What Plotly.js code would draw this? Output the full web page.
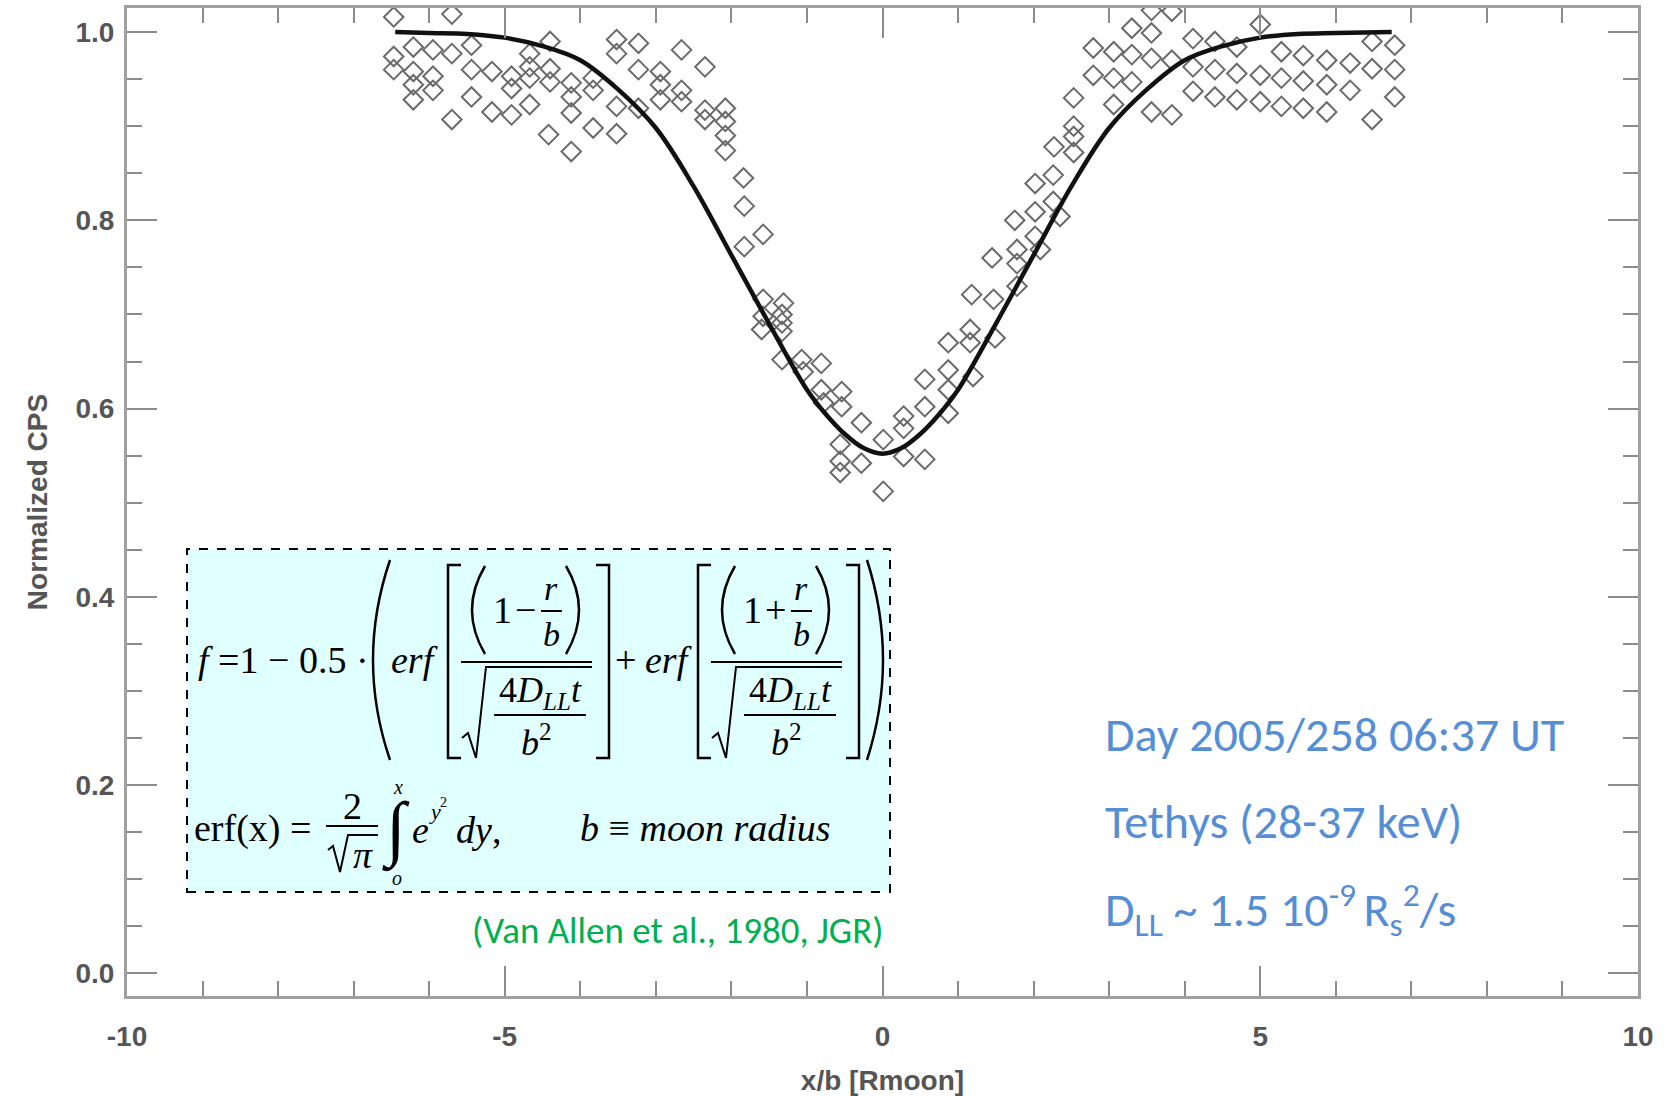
<!DOCTYPE html>
<html>
<head>
<meta charset="utf-8">
<script src="https://cdn.plot.ly/plotly-3.0.1.min.js"></script>
<style>
  html, body { margin: 0; padding: 0; background: #fff; }
  #chart { width: 1669px; height: 1096px; }
</style>
</head>
<body>
<div id="chart"></div>
<script>
// Normalized count rate across the Tethys microsignature (Cassini LEMMS, 28-37 keV)

// Measured points: position x/b (moon radii) and normalized CPS
const obsX = [
  -6.47, -5.70, -6.21, -5.95, -6.47, -5.70, -5.44, -6.47, -6.21, -5.95,
  -6.21, -5.95, -6.21, -5.44, -5.17, -5.44, -5.70, -5.17, -4.91, -4.91,
  -4.91, -4.67, -4.67, -4.67, -4.67, -4.40, -4.40, -4.40, -4.42, -4.12,
  -4.12, -4.12, -4.12, -3.83, -3.83, -3.83, -3.52, -3.52, -3.52, -3.52,
  -3.23, -3.23, -3.23, -2.94, -2.94, -2.94, -2.66, -2.66, -2.66, -2.35,
  -2.35, -2.35, -2.08, -2.08, -2.08, -2.08, -1.84,
  -1.83, -1.83, -1.58, -1.58, -1.31, -1.58, -1.33, -1.33, -1.33, -1.60,
  -1.33, -1.07, -0.81, -1.05, -0.81, -0.54, -0.78, -0.54, -0.28, -0.56,
  -0.56, -0.56, -0.28, 0.01, 0.01, 0.28, 0.28, 0.28, 0.56, 0.56,
  0.56, 0.87, 0.87, 0.87, 0.87, 1.16, 1.16, 1.18, 1.20, 1.45,
  1.47, 1.49,
  1.75, 1.78, 1.78, 1.78, 2.02, 2.02, 2.02, 2.09, 2.27, 2.26,
  2.26, 2.35, 2.53, 2.53, 2.53, 2.53, 2.79, 2.79, 3.06, 3.06,
  3.06, 3.30, 3.30, 3.30, 3.56, 3.56, 3.56, 3.56, 3.83, 3.83,
  3.83, 4.11, 4.11, 4.11, 4.40, 4.40, 4.40, 4.69, 4.69, 4.69,
  5.00, 5.00, 5.00, 5.28, 5.28, 5.28, 5.57, 5.57, 5.57, 5.88,
  5.88, 5.88, 6.19, 6.19, 6.48, 6.48, 6.48, 6.78, 6.78, 6.78
];
const obsCPS = [
  1.016, 1.019, 0.984, 0.981, 0.974, 0.977, 0.986, 0.960, 0.958, 0.953,
  0.944, 0.938, 0.928, 0.960, 0.958, 0.931, 0.907, 0.915, 0.953, 0.940,
  0.912, 0.977, 0.963, 0.951, 0.923, 0.990, 0.961, 0.947, 0.891, 0.946,
  0.931, 0.914, 0.873, 0.951, 0.938, 0.898, 0.992, 0.977, 0.921, 0.892,
  0.988, 0.960, 0.919, 0.958, 0.944, 0.928, 0.981, 0.938, 0.926, 0.963,
  0.917, 0.907, 0.919, 0.905, 0.890, 0.874, 0.845,
  0.815, 0.772, 0.785, 0.716, 0.712, 0.698, 0.700, 0.691, 0.682, 0.684,
  0.652, 0.652, 0.648, 0.639, 0.620, 0.618, 0.606, 0.602, 0.585, 0.562,
  0.544, 0.532, 0.542, 0.567, 0.512, 0.592, 0.579, 0.549, 0.631, 0.602,
  0.546, 0.670, 0.641, 0.620, 0.595, 0.684, 0.670, 0.721, 0.634, 0.760,
  0.716, 0.675,
  0.800, 0.769, 0.754, 0.730, 0.839, 0.809, 0.783, 0.769, 0.878, 0.848,
  0.820, 0.804, 0.930, 0.900, 0.889, 0.872, 0.983, 0.954, 0.979, 0.951,
  0.923, 1.004, 0.976, 0.947, 1.023, 0.999, 0.972, 0.915, 1.022, 0.970,
  0.912, 0.993, 0.963, 0.937, 0.990, 0.960, 0.931, 0.984, 0.956, 0.928,
  1.008, 0.954, 0.926, 0.979, 0.951, 0.921, 0.975, 0.948, 0.919, 0.970,
  0.944, 0.915, 0.967, 0.938, 0.990, 0.961, 0.907, 0.986, 0.960, 0.931
];

// Diffusion model curve f(x)
const fitX = [
  -6.45, -6.0, -5.5, -5.0, -4.5, -4.0, -3.5, -3.0, -2.5, -2.0,
  -1.5, -1.0, -0.75, -0.5, -0.25, 0.0, 0.25, 0.5, 0.75, 1.0,
  1.5, 2.0, 2.5, 3.0, 3.5, 4.0, 4.5, 5.0, 5.5, 6.0, 6.74
];
const fitF = [
  1.000, 0.999, 0.998, 0.994, 0.985, 0.970, 0.939, 0.898, 0.836, 0.763,
  0.690, 0.620, 0.594, 0.573, 0.558, 0.552, 0.558, 0.573, 0.594, 0.620,
  0.690, 0.763, 0.836, 0.898, 0.939, 0.970, 0.985, 0.994, 0.998, 0.999, 1.000
];

// Axis ticks
const xTickVals = [-10, -5, 0, 5, 10];
const xTickText = ['-10', '-5', '0', '5', '10'];
const yTickVals = [0, 0.2, 0.4, 0.6, 0.8, 1.0];
const yTickText = ['0.0', '0.2', '0.4', '0.6', '0.8', '1.0'];

// Page geometry (pixels) of the plotting frame
const W = 1669, H = 1096;
const PL = 127, PR = 1638, PT = 8, PB = 996;
const px = X => (X - PL) / (PR - PL);
const py = Y => (PB - Y) / (PB - PT);

const AXIS_GRAY = '#a0a0a0';
const TICK_GRAY = '#8c8c8c';
const LABEL_FONT = { family: 'Liberation Sans, Arial, sans-serif', size: 28, color: '#555', weight: 'bold' };
const MATH = 'Liberation Serif, Times New Roman, serif';
const NOTE_BLUE = '#558ed5';
const NOTE_GREEN = '#00b050';
const NOTE_FONT = 'Carlito, Lato, "Open Sans", sans-serif';

function txt(s, X, Y, size, anchor) {
  return {
    xref: 'paper', yref: 'paper', x: px(X), y: py(Y),
    text: s, showarrow: false,
    xanchor: anchor || 'center', yanchor: 'middle',
    font: { family: MATH, size: size, color: '#000' }
  };
}

// Build an SVG path in paper units from pixel commands
function pathOf(cmds) {
  return cmds.map(c => {
    const op = c[0];
    const pts = [];
    for (let i = 1; i < c.length; i += 2) pts.push(px(c[i]) + ',' + py(c[i + 1]));
    return op + ' ' + pts.join(' ');
  }).join(' ');
}
function stroke(cmds, w) {
  return {
    type: 'path', xref: 'paper', yref: 'paper', path: pathOf(cmds),
    line: { color: '#000', width: w || 2.5 }, layer: 'above'
  };
}
function bar(X0, X1, Y, w) {
  return stroke([['M', X0, Y], ['L', X1, Y]], w || 2);
}

// Formula: one erf term of the absorption profile
function erfTerm(sign, x0) {
  // x0: left edge of the opening bracket
  const a = [];
  const s = [];
  const o = x0 - 448;
  s.push(stroke([['M', 461 + o, 565], ['L', 448 + o, 565], ['L', 448 + o, 758], ['L', 461 + o, 758]]));
  s.push(stroke([['M', 485 + o, 566], ['Q', 459 + o, 610, 485 + o, 654]]));
  s.push(stroke([['M', 566 + o, 566], ['Q', 592 + o, 610, 566 + o, 654]]));
  a.push(txt('1', 502 + o, 610, 38));
  a.push(txt(sign, 525 + o, 610, 38));
  a.push(txt('<i>r</i>', 551 + o, 588, 34));
  s.push(bar(541 + o, 562 + o, 611));
  a.push(txt('<i>b</i>', 551 + o, 634, 34));
  s.push(bar(461 + o, 592 + o, 662));
  s.push(stroke([['M', 462 + o, 738], ['L', 468 + o, 733], ['L', 476 + o, 758], ['L', 486 + o, 667], ['L', 592 + o, 667]], 2));
  a.push(txt('4<i>D</i><sub><i>LL</i></sub><i>t</i>', 540 + o, 692, 36));
  s.push(bar(494 + o, 586 + o, 715));
  a.push(txt('<i>b</i><sup>2</sup>', 536 + o, 740, 36));
  s.push(stroke([['M', 596 + o, 565], ['L', 609 + o, 565], ['L', 609 + o, 758], ['L', 596 + o, 758]]));
  return { a, s };
}

const t1 = erfTerm('−', 448);
const t2 = erfTerm('+', 698);

const formulaShapes = [
  {
    type: 'rect', xref: 'paper', yref: 'paper',
    x0: px(187), x1: px(890), y0: py(892), y1: py(549),
    fillcolor: '#e0ffff', line: { color: '#000', width: 2, dash: 'dash' }, layer: 'below'
  },
  stroke([['M', 390, 560], ['Q', 356, 660, 390, 760]]),
  stroke([['M', 867, 560], ['Q', 899, 660, 867, 760]]),
  ...t1.s, ...t2.s,
  // 2 / sqrt(pi)
  bar(326, 378, 826),
  stroke([['M', 328, 850], ['L', 333, 846], ['L', 340, 872], ['L', 348, 835], ['L', 378, 835]], 2)
];

const formulaText = [
  txt('<i>f</i> =1 − 0.5 ·', 196, 660, 38, 'left'),
  txt('<i>erf</i>', 414, 660, 38),
  ...t1.a,
  txt('+', 625, 660, 38),
  txt('<i>erf</i>', 668, 660, 38),
  ...t2.a,
  txt('erf(x) =', 192, 828, 38, 'left'),
  txt('2', 352, 806, 38),
  txt('<i>π</i>', 363, 855, 38),
  txt('∫', 396, 830, 72),
  txt('<i>x</i>', 398, 787, 20),
  txt('<i>o</i>', 397, 878, 20),
  txt('<i>e</i>', 420, 830, 38),
  txt('<i>y</i>', 435, 811, 22),
  txt('2', 443, 802, 14),
  txt('<i>dy</i>,', 478, 830, 38),
  txt('<i>b</i> ≡ <i>moon radius</i>', 578, 828, 38, 'left')
];

const notes = [
  {
    xref: 'paper', yref: 'paper', x: px(1103), y: py(735), xanchor: 'left', yanchor: 'middle',
    showarrow: false, text: 'Day 2005/258 06:37 UT',
    font: { family: NOTE_FONT, size: 48, color: NOTE_BLUE }
  },
  {
    xref: 'paper', yref: 'paper', x: px(1103), y: py(821), xanchor: 'left', yanchor: 'middle',
    showarrow: false, text: 'Tethys (28-37 keV)',
    font: { family: NOTE_FONT, size: 48, color: NOTE_BLUE }
  },
  {
    xref: 'paper', yref: 'paper', x: px(1103), y: py(909), xanchor: 'left', yanchor: 'middle',
    showarrow: false, text: 'D<sub>LL</sub> ~ 1.5 10<sup>-9 </sup>R<sub>s</sub><sup>2</sup>/s',
    font: { family: NOTE_FONT, size: 48, color: NOTE_BLUE }
  },
  {
    xref: 'paper', yref: 'paper', x: px(885), y: py(930), xanchor: 'right', yanchor: 'middle',
    showarrow: false, text: '(Van Allen et al., 1980, JGR)',
    font: { family: NOTE_FONT, size: 37, color: NOTE_GREEN }
  }
];

const traces = [
  {
    type: 'scatter', mode: 'markers', x: obsX, y: obsCPS,
    marker: { symbol: 'diamond-open', size: 15, color: '#6a6a6a', line: { width: 2, color: '#6a6a6a' } },
    hoverinfo: 'skip'
  },
  {
    type: 'scatter', mode: 'lines', x: fitX, y: fitF,
    line: { color: '#111', width: 4.5, shape: 'spline', smoothing: 1 },
    hoverinfo: 'skip'
  }
];

const axisCommon = {
  ticks: 'inside', ticklen: 30, tickwidth: 2, tickcolor: TICK_GRAY,
  showline: true, linecolor: AXIS_GRAY, linewidth: 3, mirror: 'ticks',
  showgrid: false, zeroline: false,
  tickfont: LABEL_FONT
};

const layout = {
  width: W, height: H, autosize: false,
  margin: { l: PL, r: W - PR, t: PT, b: H - PB, pad: 0 },
  paper_bgcolor: '#fff', plot_bgcolor: '#fff',
  showlegend: false,
  xaxis: Object.assign({}, axisCommon, {
    range: [-10, 10], tickmode: 'array', tickvals: xTickVals, ticktext: xTickText,
    minor: { ticks: 'inside', ticklen: 15, tickwidth: 2, tickcolor: TICK_GRAY, dtick: 1, tick0: 0, showgrid: false },
    ticklabelstandoff: 13,
    title: { text: 'x/b [Rmoon]', standoff: 20, font: { family: 'Liberation Sans, Arial, sans-serif', size: 28, color: '#555', weight: 'bold' } }
  }),
  yaxis: Object.assign({}, axisCommon, {
    range: [-0.024, 1.0255], tickmode: 'array', tickvals: yTickVals, ticktext: yTickText,
    minor: { ticks: 'inside', ticklen: 15, tickwidth: 2, tickcolor: TICK_GRAY, dtick: 0.05, tick0: 0, showgrid: false },
    ticklabelstandoff: 4,
    title: { text: 'Normalized CPS', standoff: 20, font: { family: 'Liberation Sans, Arial, sans-serif', size: 28, color: '#555', weight: 'bold' } }
  }),
  shapes: formulaShapes,
  annotations: formulaText.concat(notes)
};

Plotly.newPlot('chart', traces, layout, { staticPlot: true, displayModeBar: false });
</script>
</body>
</html>
